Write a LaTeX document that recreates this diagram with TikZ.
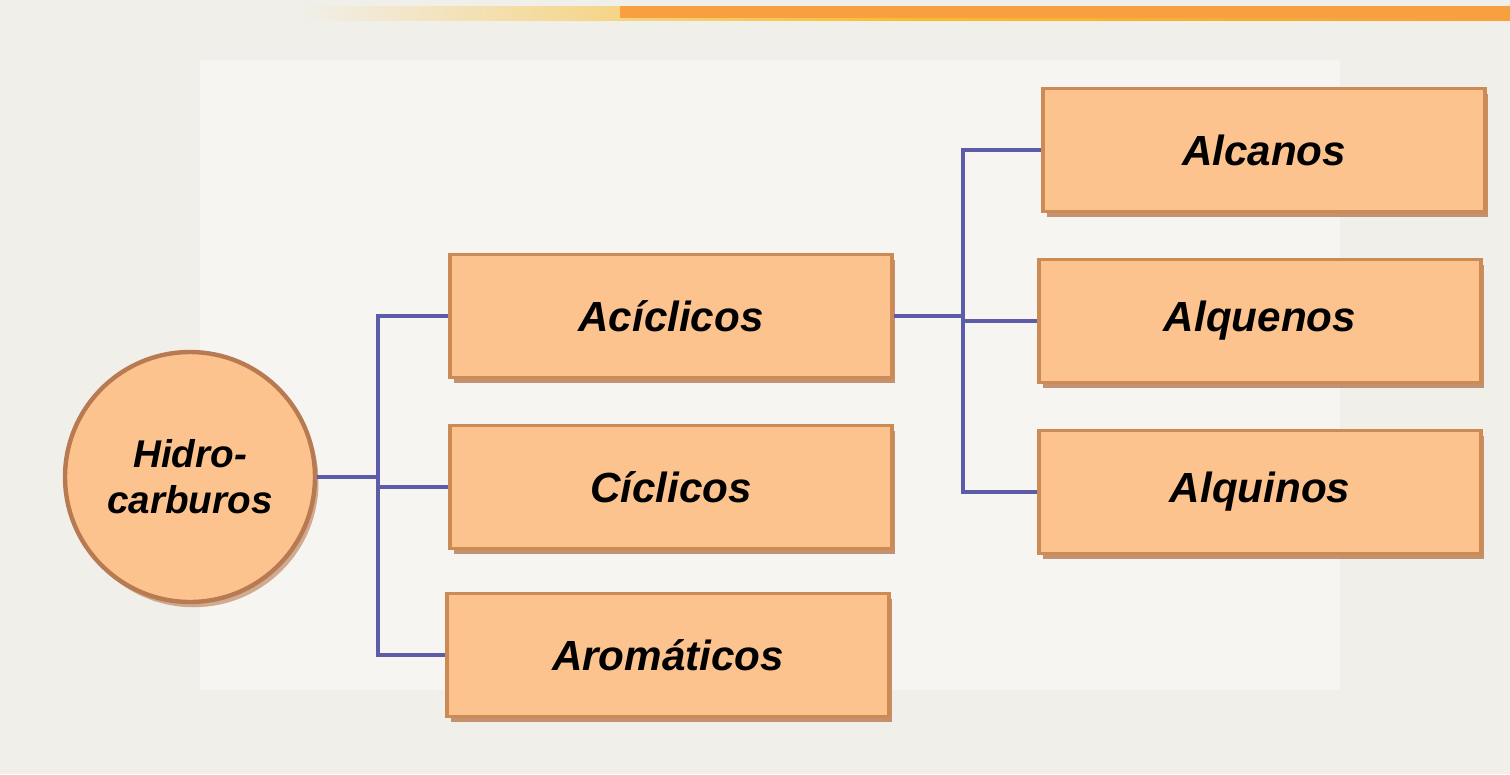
\documentclass[tikz,border=0pt]{standalone}
\usepackage{fontspec}
\setmainfont{Liberation Sans}
\usetikzlibrary{shadows}
\definecolor{bg}{HTML}{F1EFEA}
\definecolor{boxfill}{HTML}{FDC38E}
\definecolor{boxline}{HTML}{CC8A55}
\definecolor{shadowc}{HTML}{B87A50}
\definecolor{linkc}{HTML}{5C5CA8}
\definecolor{stripe}{HTML}{F7A040}
\tikzset{
  catbox/.style={draw=boxline, line width=2pt, fill=boxfill, minimum width=8.84cm, minimum height=2.46cm,
    inner sep=0pt, font=\fontsize{24}{28}\selectfont\bfseries\itshape,
    drop shadow={shadow xshift=2pt, shadow yshift=-3pt, fill=shadowc, opacity=0.8}},
  rootnode/.style={circle, draw=shadowc, line width=2.5pt, fill=boxfill, minimum size=5cm, inner sep=0pt,
    align=center, font=\fontsize{22}{26}\selectfont\bfseries\itshape,
    drop shadow={shadow xshift=2pt, shadow yshift=-3pt, fill=shadowc, opacity=0.6}},
  link/.style={draw=linkc, line width=2.2pt}
}
\begin{document}
\begin{tikzpicture}[x=0.02cm, y=-0.02cm]
\useasboundingbox (0,0) rectangle (1510,774);
\fill[bg] (0,0) rectangle (1510,774);
\fill[white!35!bg] (200,60) rectangle (1340,690);
\shade[left color=bg, right color=stripe, middle color=stripe!70!yellow] (300,6) rectangle (1510,20);
\fill[stripe] (620,6) rectangle (1510,18);
% nodes
\node[rootnode] (hc) at (190,477) {Hidro-\\carburos};
\node[catbox] (aci) at (671,316) {Acíclicos};
\node[catbox] (cic) at (671,487) {Cíclicos};
\node[catbox] (aro) at (668,655) {Aromáticos};
\node[catbox] (alc) at (1264,150) {Alcanos};
\node[catbox] (alqe) at (1260,321) {Alquenos};
\node[catbox] (alqi) at (1260,492) {Alquinos};
% junctions
\coordinate (j1) at (378,477);
\coordinate (j2) at (963,316);
\draw[link] (hc.east) -- (j1);
\draw[link] (j1) |- (aci.west);
\draw[link] (j1) |- (cic.west);
\draw[link] (j1) |- (aro.west);
\draw[link] (aci.east) -- (j2);
\draw[link] (j2) |- (alc.west);
\draw[link] (j2) |- (alqe.west);
\draw[link] (j2) |- (alqi.west);
\end{tikzpicture}
\end{document}
